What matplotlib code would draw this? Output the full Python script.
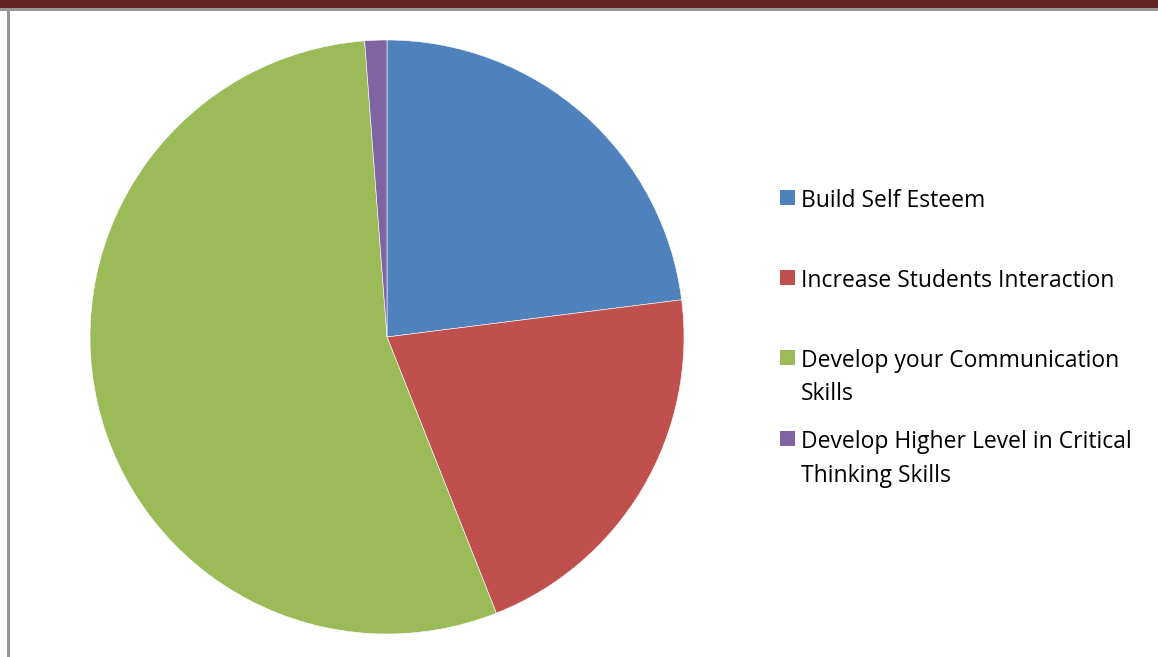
import matplotlib.pyplot as plt
from matplotlib.patches import Rectangle

# share of responses per benefit (percent)
labels = [
    "Build Self Esteem",
    "Increase Students Interaction",
    "Develop your Communication\nSkills",
    "Develop Higher Level in Critical\nThinking Skills",
]
shares = [23.0, 21.0, 54.8, 1.2]
colors = ["#4F81BD", "#C0504D", "#9BBB59", "#8064A2"]

W, H = 1158, 657
fig = plt.figure(figsize=(W / 100, H / 100), dpi=100)
fig.patch.set_facecolor("white")

# page header band and frame lines
fig.add_artist(Rectangle((0, 1 - 8 / H), 1, 8 / H, transform=fig.transFigure,
                         facecolor="#632523", edgecolor="none"))
fig.add_artist(Rectangle((0, 1 - 11 / H), 1, 3 / H, transform=fig.transFigure,
                         facecolor="#969696", edgecolor="none"))
fig.add_artist(Rectangle((7 / W, 0), 3 / W, 1 - 11 / H, transform=fig.transFigure,
                         facecolor="#969696", edgecolor="none"))

# pie
cx, cy, r = 387, 337, 297
ax = fig.add_axes([(cx - r) / W, (H - cy - r) / H, 2 * r / W, 2 * r / H])
ax.pie(shares, colors=colors, startangle=90, counterclock=False, radius=1,
       wedgeprops=dict(edgecolor="white", linewidth=0.4))
ax.set_xlim(-1, 1)
ax.set_ylim(-1, 1)
ax.set_aspect("equal")
ax.axis("off")

# legend entries: baseline of first text line in pixels
baselines = [207, 287, 367, 448]
line_step = 33.5
for lab, col, base in zip(labels, colors, baselines):
    fig.add_artist(Rectangle((780 / W, 1 - (base - 2) / H), 15 / W, 15 / H,
                             transform=fig.transFigure, facecolor=col,
                             edgecolor="none"))
    for i, line in enumerate(lab.split("\n")):
        fig.text(801 / W, 1 - (base + i * line_step) / H, line,
                 ha="left", va="baseline", fontsize=16.5,
                 family="Open Sans", color="black")

fig.savefig("out.png", dpi=100)
